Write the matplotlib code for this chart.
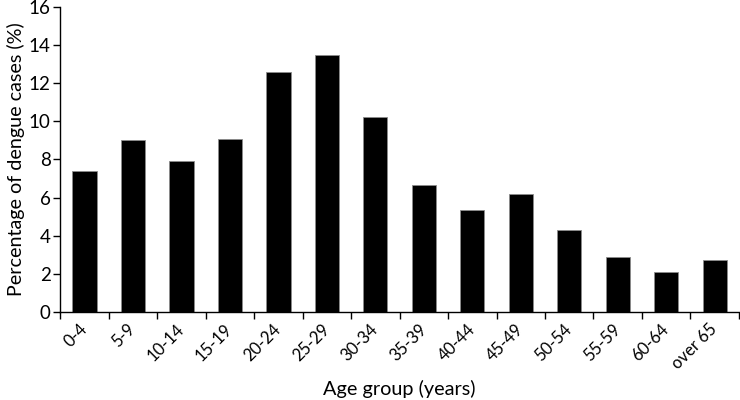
import numpy as np
import matplotlib.pyplot as plt

# Datos
grupos = ['0-4', '5-9', '10-14', '15-19', '20-24', '25-29', '30-34',
          '35-39', '40-44', '45-49', '50-54', '55-59', '60-64', 'over 65']
porcentaje = [7.38, 9.01, 7.91, 9.08, 12.62, 13.5, 10.22,
              6.65, 5.33, 6.19, 4.30, 2.86, 2.07, 2.72]

plt.rcParams['font.family'] = ['Lato', 'DejaVu Sans']

fig = plt.figure(figsize=(7.4, 4.0), dpi=100)
ax = fig.add_axes([0.0815, 0.2208, 0.917, 0.761])

x = np.arange(len(grupos))
ax.bar(x, porcentaje, width=0.5, color='black', edgecolor='#8c8c8c', linewidth=0.6)

ax.set_xlim(-0.5, len(grupos) - 0.5)
ax.set_ylim(0, 16)
ax.set_yticks(np.arange(0, 17, 2))

# marcas en los límites de cada categoría, etiquetas en el centro
ax.set_xticks(np.arange(-0.5, len(grupos), 1.0))
ax.set_xticklabels([])
ax.set_xticks(x, minor=True)
ax.set_xticklabels(grupos, minor=True, rotation=45, ha='right', va='center',
                   rotation_mode='anchor', fontsize=12)
ax.tick_params(axis='x', which='minor', length=0, pad=11)
ax.tick_params(axis='x', which='major', direction='out', length=5, width=1)
ax.tick_params(axis='y', direction='out', length=5, width=1, labelsize=13.5, pad=2)

for s in ['top', 'right']:
    ax.spines[s].set_visible(False)
for s in ['left', 'bottom']:
    ax.spines[s].set_linewidth(1)

ax.set_ylabel('Percentage of dengue cases (%)', fontsize=14.2, labelpad=3)
ax.set_xlabel('Age group (years)', fontsize=14.3, labelpad=5)

fig.savefig('out.png', dpi=100)
